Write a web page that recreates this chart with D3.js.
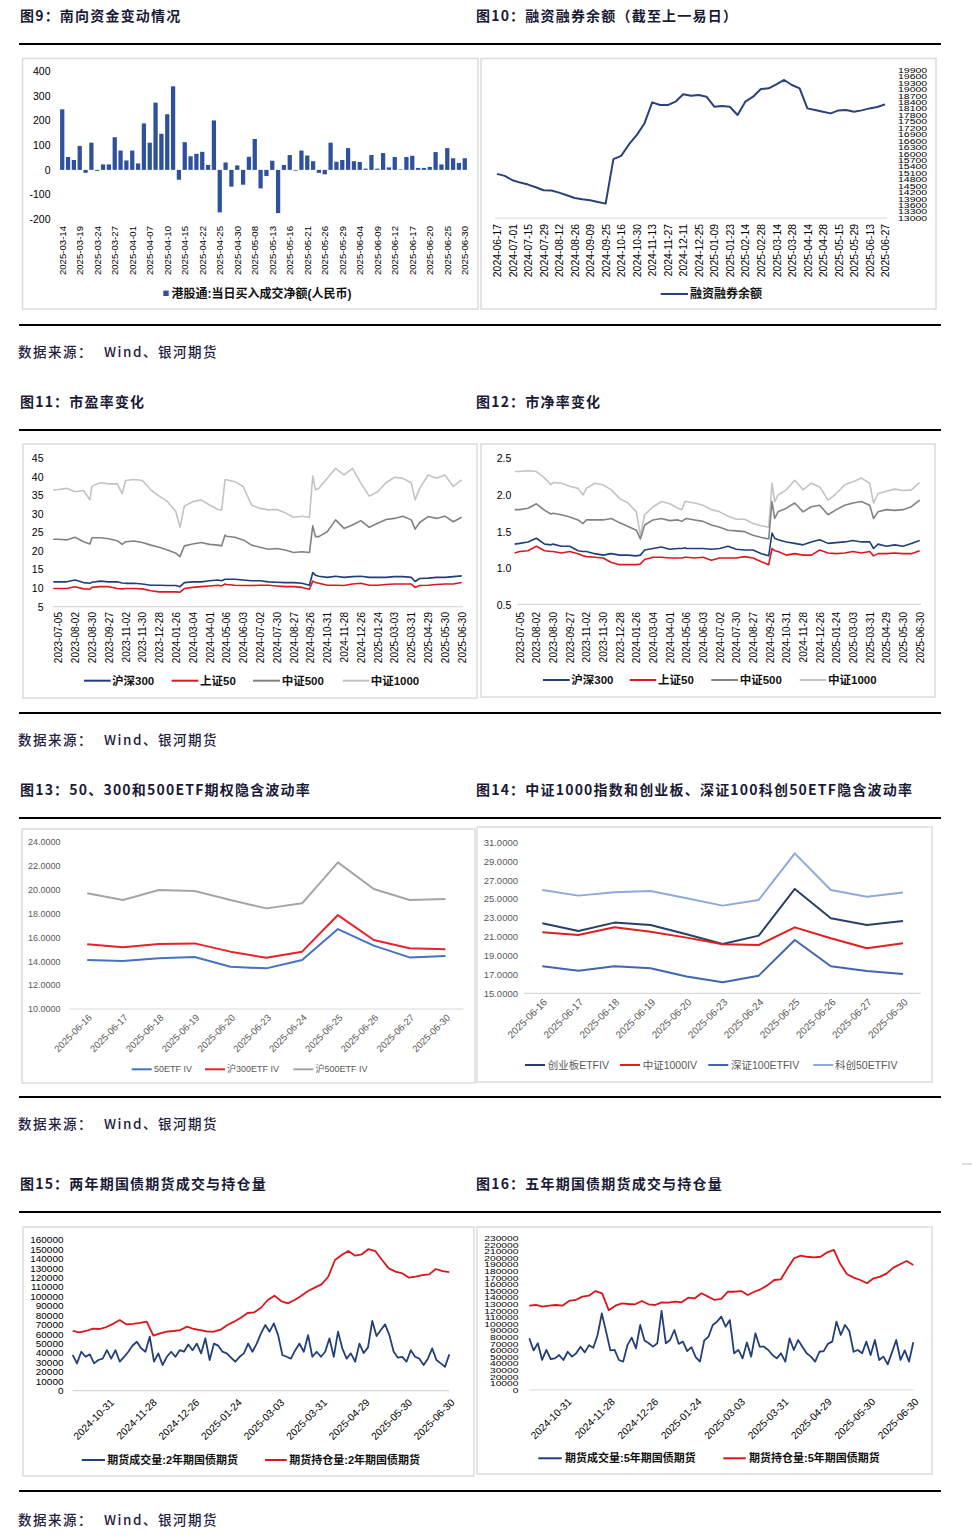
<!DOCTYPE html>
<html><head><meta charset="utf-8">
<script src="https://cdn.jsdelivr.net/npm/d3@7"></script>
<style>html,body{margin:0;padding:0;background:#fff}svg{display:block}</style>
</head><body>
<script>
// ================= DATA =================
// Fig 9 southbound net buy
const sbDates = ['2025-03-14','2025-03-17','2025-03-18','2025-03-19','2025-03-20','2025-03-21','2025-03-24','2025-03-25','2025-03-26','2025-03-27',
'2025-03-28','2025-03-31','2025-04-01','2025-04-02','2025-04-03','2025-04-07','2025-04-08','2025-04-09','2025-04-10','2025-04-11',
'2025-04-14','2025-04-15','2025-04-16','2025-04-17','2025-04-22','2025-04-23','2025-04-24','2025-04-25','2025-04-28','2025-04-29',
'2025-04-30','2025-05-06','2025-05-07','2025-05-08','2025-05-09','2025-05-12','2025-05-13','2025-05-14','2025-05-15','2025-05-16',
'2025-05-19','2025-05-20','2025-05-21','2025-05-22','2025-05-23','2025-05-26','2025-05-27','2025-05-28','2025-05-29','2025-05-30',
'2025-06-03','2025-06-04','2025-06-05','2025-06-06','2025-06-09','2025-06-10','2025-06-11','2025-06-12','2025-06-13','2025-06-16',
'2025-06-17','2025-06-18','2025-06-19','2025-06-20','2025-06-23','2025-06-24','2025-06-25','2025-06-26','2025-06-27','2025-06-30'];
const sbValues = [245,52,40,97,-12,110,-4,22,22,132, 78,38,78,26,188,110,272,146,225,338,
 -40,112,55,65,73,20,200,-172,30,-68, 18,-60,53,125,-75,-25,37,-175,20,60,
 -3,78,58,35,-12,-18,110,33,40,88, 35,32,5,60,5,68,10,52,2,52, 57,8,8,12,72,22,88,47,28,47];
const sbTicks = [-200,-100,0,100,200,300,400];

// Fig 10 margin balance (5-trading-day samples)
const marginDates = ['2024-06-17','2024-07-01','2024-07-15','2024-07-29','2024-08-12','2024-08-26','2024-09-09','2024-09-25','2024-10-16','2024-10-30','2024-11-13','2024-11-27','2024-12-11','2024-12-25','2025-01-09','2025-01-23','2025-02-14','2025-02-28','2025-03-14','2025-03-28','2025-04-14','2025-04-28','2025-05-15','2025-05-29','2025-06-13','2025-06-27'];
const marginValues = [15057,14963,14760,14651,14558,14433,14293,14278,14184,14059,
 13935,13872,13826,13748,13670,15742,15898,16428,16864,17409,
 18391,18266,18266,18422,18765,18702,18733,18655,18188,18219,
 18188,17800,18422,18655,19014,19045,19232,19435,19201,19045,
 18110,18032,17954,17877,18017,18032,17954,18017,18110,18172,18300];
const marginTicks = [13000,13300,13600,13900,14200,14500,14800,15100,15400,15700,16000,16300,16600,16900,17200,17500,17800,18100,18400,18700,19000,19300,19600,19900];

// Fig 11/12 valuation (positions in label intervals)
const valDates = ['2023-07-05','2023-08-02','2023-08-30','2023-09-27','2023-11-02','2023-11-30','2023-12-28','2024-01-26','2024-03-04','2024-04-01','2024-05-06','2024-06-03','2024-07-02','2024-07-30','2024-08-27','2024-09-26','2024-10-31','2024-11-28','2024-12-26','2025-01-24','2025-03-03','2025-03-31','2025-04-29','2025-05-30','2025-06-30'];
const valPos = [-0.3,0,0.5,1,1.5,1.88,2,2.5,3,3.5,3.8,4,4.5,5,5.5,6,6.5,7,7.24,7.5,8,8.5,9,9.5,9.72,9.92,10,10.5,11,11.5,12,12.5,13,13.5,14,14.5,14.94,15.14,15.3,15.5,16,16.5,17,17.5,18,18.5,19,19.5,20,20.5,21,21.23,21.5,22,22.5,23,23.5,24];
const pe1000 = [36.5,36.6,36.9,36.0,36.3,33.8,37.5,38.4,38.1,38.1,35.5,39.0,39.3,39.0,36.5,34.8,33.3,30.6,26.4,32.1,33.3,33.8,32.4,31.2,31.1,39.2,39.2,38.7,37.4,32.4,31.5,31.1,31.2,30.3,29.1,29.4,29.1,40.2,36.5,36.9,39.6,42.3,40.5,42.3,38.3,34.8,36.0,38.4,39.9,39.6,38.4,33.8,36.9,40.5,39.6,40.5,37.4,39.2];
const pe500 = [23.2,23.2,23.0,23.7,22.5,21.9,23.6,23.6,23.3,22.8,21.8,22.5,22.7,22.3,21.6,21.0,20.3,19.4,18.5,21.4,21.9,22.3,21.8,21.6,21.4,24.3,24.0,23.7,23.0,21.6,21.0,20.5,20.7,20.3,19.6,19.8,19.6,26.8,23.9,23.9,25.2,28.4,26.1,27.0,28.2,26.4,27.5,28.5,28.8,29.4,28.4,25.9,27.7,29.3,28.8,29.4,27.9,29.1];
const pe300 = [11.7,11.7,11.7,12.2,11.5,11.3,11.6,11.9,11.7,11.7,11.4,11.3,11.3,11.1,10.8,10.8,10.7,10.7,10.4,11.5,11.7,11.7,12.0,12.2,12.0,12.4,12.4,12.4,12.2,12.0,12.0,11.7,11.6,11.5,11.5,11.3,10.8,14.2,13.5,13.2,12.9,13.2,12.9,13.1,13.2,12.9,12.9,12.9,13.1,13.1,12.9,11.8,12.6,12.7,12.9,12.9,13.1,13.3];
const pe50 = [9.9,9.9,9.9,10.4,9.8,9.7,10.2,10.4,10.4,9.9,9.8,9.9,9.9,9.8,9.3,9.0,9.0,9.0,8.9,9.9,10.2,10.4,10.6,10.8,10.6,11.1,11.0,10.8,10.7,10.7,10.8,10.8,10.6,10.4,10.4,10.2,9.7,11.9,11.5,11.3,10.8,10.8,10.7,11.1,11.3,10.8,10.8,11.0,11.1,11.1,11.1,10.2,10.7,10.8,11.0,11.1,11.1,11.5];
const peTicks = [5,10,15,20,25,30,35,40,45];
const pb1000 = [2.32,2.32,2.33,2.32,2.23,2.14,2.17,2.16,2.12,2.09,2.00,2.09,2.16,2.14,2.07,1.95,1.89,1.77,1.45,1.73,1.84,1.91,1.88,1.82,1.80,1.91,1.91,1.89,1.86,1.80,1.77,1.71,1.67,1.67,1.61,1.58,1.56,2.16,1.91,2.00,2.07,2.20,2.07,2.16,2.11,1.93,2.02,2.14,2.18,2.23,2.16,1.89,2.02,2.05,2.08,2.06,2.07,2.17];
const pb500 = [1.80,1.80,1.82,1.88,1.79,1.74,1.75,1.73,1.70,1.66,1.61,1.66,1.66,1.66,1.68,1.62,1.57,1.52,1.40,1.59,1.66,1.68,1.65,1.66,1.64,1.67,1.68,1.66,1.64,1.59,1.56,1.52,1.51,1.50,1.45,1.42,1.40,1.91,1.68,1.77,1.82,1.89,1.77,1.84,1.86,1.73,1.80,1.86,1.89,1.91,1.86,1.68,1.77,1.80,1.79,1.80,1.84,1.93];
const pb300 = [1.33,1.34,1.36,1.41,1.33,1.32,1.33,1.30,1.30,1.24,1.23,1.23,1.20,1.18,1.20,1.18,1.18,1.17,1.18,1.25,1.27,1.29,1.26,1.27,1.27,1.28,1.27,1.27,1.27,1.26,1.27,1.30,1.26,1.25,1.25,1.20,1.17,1.48,1.41,1.39,1.36,1.34,1.32,1.36,1.39,1.34,1.35,1.36,1.38,1.36,1.36,1.27,1.33,1.30,1.32,1.30,1.34,1.38];
const pb50 = [1.21,1.23,1.24,1.30,1.24,1.23,1.23,1.21,1.23,1.20,1.17,1.16,1.15,1.14,1.08,1.05,1.05,1.05,1.06,1.12,1.15,1.15,1.14,1.14,1.14,1.15,1.15,1.14,1.15,1.11,1.14,1.14,1.14,1.16,1.14,1.09,1.05,1.27,1.24,1.23,1.18,1.20,1.18,1.18,1.25,1.21,1.20,1.21,1.23,1.21,1.23,1.17,1.20,1.20,1.21,1.20,1.20,1.24];
const pbTicks = [0.5,1.0,1.5,2.0,2.5];

// Fig 13/14 implied volatility
const ivDates = ['2025-06-16','2025-06-17','2025-06-18','2025-06-19','2025-06-20','2025-06-23','2025-06-24','2025-06-25','2025-06-26','2025-06-27','2025-06-30'];
const iv50 = [14.10,14.02,14.24,14.35,13.54,13.40,14.10,16.69,15.30,14.32,14.43];
const iv300 = [15.41,15.16,15.44,15.49,14.80,14.29,14.80,17.86,15.77,15.08,14.99];
const iv500 = [19.68,19.12,19.96,19.87,19.12,18.42,18.84,22.27,20.04,19.12,19.20];
const ivCyb = [22.42,21.60,22.49,22.24,21.25,20.23,21.11,26.06,22.95,22.24,22.66];
const ivZz1000 = [21.46,21.18,21.99,21.53,20.90,20.19,20.12,21.99,20.83,19.77,20.30];
const ivSz100 = [17.86,17.40,17.86,17.65,16.77,16.17,16.87,20.65,17.86,17.37,17.05];
const ivKc50 = [25.95,25.35,25.70,25.84,25.07,24.29,24.89,29.83,25.95,25.24,25.67];
const iv13Ticks = [10,12,14,16,18,20,22,24];
const iv14Ticks = [15,17,19,21,23,25,27,29,31];

// Fig 15/16 treasury futures (trading-day span 177)
const tfDates = ['2024-10-31','2024-11-28','2024-12-26','2025-01-24','2025-03-03','2025-03-31','2025-04-29','2025-05-30','2025-06-30'];
const tfDateDays = [17,37,57,77,97,117,137,157,177];
const tf2Vol = [37900,29000,41400,36000,38600,29000,32600,34000,43000,34000,
 43000,30800,36000,41400,48000,52000,45000,41400,57300,30800,
 39600,27300,36000,41400,36000,43000,41400,49000,43000,50000,
 39600,55600,32600,50000,47800,41400,39600,35000,30800,36000,
 39600,50000,41400,50000,60900,69700,62700,71500,59000,37900,
 36000,34000,43000,50000,41400,59000,36000,41400,36000,41400,
 55600,36000,62700,45000,34000,39600,30800,50000,40000,46000,
 74000,58000,64400,70400,59000,41400,35000,36000,30800,43000,
 36000,34000,27300,34000,45000,32600,29000,25500,38600];
const tf2Oi = [63400,62000,63400,66000,65500,67600,71000,75000,70400,71000,
 71900,73300,58400,60900,62700,63400,64400,68000,65500,64400,
 62700,62700,64800,69700,73300,77500,82500,83200,88100,96300,
 100900,95200,92700,96300,100900,105800,109400,112900,121000,138800,
 144000,148300,143400,144800,150400,148300,138800,129900,126400,124600,
 120000,121000,122800,123500,129200,127000,126000];
const tf2Ticks = [0,10000,20000,30000,40000,50000,60000,70000,80000,90000,100000,110000,120000,130000,140000,150000,160000];
const tf5Vol = [78400,60000,70800,45500,60700,47000,48000,53000,45500,58000,
 50600,55600,65700,57000,68000,64000,83400,116000,88500,60000,
 60700,45500,43000,68000,79400,63200,98600,75000,70800,65700,
 70800,119800,70800,75800,91000,70000,73300,59000,65000,50000,
 43000,75000,80900,98600,103600,111200,96000,106000,55600,60700,
 48000,72000,50600,86000,65700,65700,60700,53000,48000,55600,
 43000,78400,60700,75800,65700,55600,50600,43000,58000,59000,
 70000,73300,103600,83400,98600,89500,58000,60700,55600,73300,
 53000,75800,45500,50600,38900,57000,75800,45500,60000,43000,72300];
const tf5Oi = [127900,128900,126400,127900,128900,127900,135000,136500,141500,143000,
 150000,146600,121000,127900,131400,130400,129900,135000,129900,128900,
 132900,132400,134000,132900,140000,139000,146600,141500,136500,138000,
 149000,149000,150000,144000,149000,153000,159000,166800,167800,184500,
 199700,203700,202000,201000,202000,208800,212300,190600,175400,170300,
 166800,161800,169300,171900,176900,185500,190600,195600,189600];
const tf5Ticks = [0,10000,20000,30000,40000,50000,60000,70000,80000,90000,100000,110000,120000,130000,140000,150000,160000,170000,180000,190000,200000,210000,220000,230000];
const tfSpan = 177;

// ================= DRAW =================
const LAT = '"Liberation Sans", Arial, "Noto Sans CJK SC", sans-serif';
const CJK = '"Noto Sans CJK SC", "Noto Sans", sans-serif';
const plain = d => String(d);
const svg = d3.select('body').append('svg').attr('width',972).attr('height',1540);
svg.append('rect').attr('width',972).attr('height',1540).attr('fill','#fff');

// page furniture
const titles = [
 ['图9：南向资金变动情况',20,16],['图10：融资融券余额（截至上一易日）',476,16],
 ['图11：市盈率变化',20,402],['图12：市净率变化',476,402],
 ['图13：50、300和500ETF期权隐含波动率',20,790],['图14：中证1000指数和创业板、深证100科创50ETF隐含波动率',476,790],
 ['图15：两年期国债期货成交与持仓量',20,1184],['图16：五年期国债期货成交与持仓量',476,1184]];
titles.forEach(t=>svg.append('text').text(t[0]).attr('x',t[1]).attr('y',t[2]).attr('dy','0.36em')
  .attr('font-family',CJK).attr('font-weight',700).attr('font-size',14).attr('letter-spacing',1.2).attr('fill','#1a1a36'));
[44,325,430,713,818,1097,1212,1491].forEach(y=>svg.append('line').attr('x1',19).attr('x2',941).attr('y1',y).attr('y2',y).attr('stroke','#000').attr('stroke-width',2));
[352,740,1124,1520].forEach(y=>{
  svg.append('text').text('数据来源：').attr('x',18).attr('y',y).attr('dy','0.36em').attr('font-family',CJK).attr('font-size',13.5).attr('font-weight',500).attr('letter-spacing',1.5).attr('fill','#1f2240');
  svg.append('text').text('Wind、银河期货').attr('x',104).attr('y',y).attr('dy','0.36em').attr('font-family',CJK).attr('font-size',13.5).attr('font-weight',500).attr('letter-spacing',1.5).attr('fill','#1f2240');
});
svg.append('line').attr('x1',962).attr('x2',972).attr('y1',1164).attr('y2',1164).attr('stroke','#bbb').attr('stroke-width',1);
[[22.5,58.5,478,309],[481,58.5,936,309],[23,444,477,698],[481,444,935,697],[22,829,475,1083],[477,827,932,1082],[23,1227,474,1476],[477,1227,932,1474]]
 .forEach(b=>svg.append('rect').attr('x',b[0]).attr('y',b[1]).attr('width',b[2]-b[0]).attr('height',b[3]-b[1]).attr('fill','none').attr('stroke','#dcdcdc').attr('stroke-width',1.5));

function styleAxis(g,size,color){
  g.attr('font-family',LAT).attr('font-size',size);
  g.select('.domain').remove(); g.selectAll('.tick line').remove();
  g.selectAll('text').attr('fill',color);
}
function squeeze(g,k){ // dense tick labels: flatten glyphs vertically so they stack like the original
  g.selectAll('text').attr('dy',null).attr('dominant-baseline','central').attr('transform',`scale(1,${k})`);
}
function rotLabels(g,angle,dx,dy){
  g.selectAll('text').attr('x',0).attr('y',0).attr('dy','0.35em').attr('text-anchor','end')
   .attr('transform',`translate(${dx},${dy}) rotate(${angle})`);
}
function hline(x1,x2,y){svg.append('line').attr('x1',x1).attr('x2',x2).attr('y1',y).attr('y2',y).attr('stroke','#d9d9d9').attr('stroke-width',1.2);}
function legLine(x1,x2,y,color,w,text,tx,size,weight,fill){
  svg.append('line').attr('x1',x1).attr('x2',x2).attr('y1',y).attr('y2',y).attr('stroke',color).attr('stroke-width',w);
  svg.append('text').text(text).attr('x',tx).attr('y',y).attr('dy','0.35em').attr('font-family',LAT).attr('font-size',size).attr('font-weight',weight).attr('fill',fill);
}
function path(xf,yf,vals,color,w){
  svg.append('path').datum(vals).attr('d',d3.line().x((d,i)=>xf(i)).y(d=>yf(d)))
   .attr('fill','none').attr('stroke',color).attr('stroke-width',w).attr('stroke-linejoin','round');
}

// ---- Fig 9 ----
{
  const y = d3.scaleLinear().domain([-200,400]).range([219.3,71]);
  const x = d3.scaleBand().domain(sbDates).range([60.1,466.9]).paddingInner(0.27);
  svg.append('g').selectAll('rect').data(sbValues).join('rect')
    .attr('x',(d,i)=>x(sbDates[i])).attr('width',x.bandwidth())
    .attr('y',d=>y(Math.max(0,d))).attr('height',d=>Math.abs(y(d)-y(0))).attr('fill','#2F519D');
  const ya = svg.append('g').attr('transform','translate(50.5,0)').call(d3.axisLeft(y).tickValues(sbTicks).tickFormat(plain).tickSize(0).tickPadding(0));
  styleAxis(ya,10.5,'#000');
  const xa = svg.append('g').attr('transform','translate(0,226)').call(d3.axisBottom(x).tickValues(sbDates.filter((d,i)=>i%3===0)).tickSize(0));
  styleAxis(xa,9.6,'#000'); rotLabels(xa,-90,0,0);
  svg.append('rect').attr('x',163.3).attr('y',290.6).attr('width',5.4).attr('height',5.4).attr('fill','#2F519D');
  svg.append('text').text('港股通:当日买入成交净额(人民币)').attr('x',171.5).attr('y',293.3).attr('dy','0.35em')
    .attr('font-family',LAT).attr('font-size',12).attr('font-weight',700).attr('fill','#111');
}
// ---- Fig 10 ----
{
  const y = d3.scaleLinear().domain([13000,19900]).range([218,70]);
  const x = d3.scaleLinear().domain([0,50]).range([497,885]);
  hline(495,887,218);
  path(x,y,marginValues,'#2A4279',2);
  const ya = svg.append('g').attr('transform','translate(898,0)').call(d3.axisRight(y).tickValues(marginTicks).tickFormat(plain).tickSize(0).tickPadding(0));
  styleAxis(ya,10.5,'#000');
  ya.selectAll('.tick').each(function(){ const t=d3.select(this); const m=/translate\(([^,]+),([^)]+)\)/.exec(t.attr('transform')); t.attr('transform',`translate(${m[1]},${m[2]}) scale(1,0.62)`); });
  ya.selectAll('text').attr('dy','0.36em');
  const xa = svg.append('g').attr('transform','translate(0,224)').call(d3.axisBottom(x).tickValues(marginDates.map((d,i)=>i*2)).tickFormat(v=>marginDates[v/2]).tickSize(0));
  styleAxis(xa,10.4,'#000'); rotLabels(xa,-90,0,0);
  legLine(660.7,688,294,'#2A4279',2,'融资融券余额',690,12,700,'#111');
}
// ---- Fig 11 ----
{
  const y = d3.scaleLinear().domain([5,45]).range([606.7,458.3]);
  const x = d3.scaleLinear().domain([0,24]).range([58.3,461.7]);
  hline(53,463,y(5));
  const xf = i=>x(valPos[i]);
  path(xf,y,pe1000,'#C3C3C3',1.6); path(xf,y,pe500,'#828282',1.6);
  path(xf,y,pe300,'#203F78',1.6); path(xf,y,pe50,'#DD1720',1.6);
  const ya = svg.append('g').attr('transform','translate(43.5,0)').call(d3.axisLeft(y).tickValues(peTicks).tickFormat(plain).tickSize(0).tickPadding(0));
  styleAxis(ya,10.5,'#000');
  const xa = svg.append('g').attr('transform','translate(0,612)').call(d3.axisBottom(x).tickValues(valDates.map((d,i)=>i)).tickFormat(i=>valDates[i]).tickSize(0));
  styleAxis(xa,10,'#000'); rotLabels(xa,-90,0,0);
  legLine(84,110.7,680.7,'#203F78',2,'沪深300',112,11.5,700,'#111');
  legLine(171.7,198.3,680.7,'#DD1720',2,'上证50',200,11.5,700,'#111');
  legLine(253,280,680.7,'#828282',2,'中证500',281.7,11.5,700,'#111');
  legLine(342.7,369.3,680.7,'#C3C3C3',2,'中证1000',370.7,11.5,700,'#111');
}
// ---- Fig 12 ----
{
  const y = d3.scaleLinear().domain([0.5,2.5]).range([605,458.3]);
  const x = d3.scaleLinear().domain([0,24]).range([519.7,919.7]);
  hline(517,921,604.3);
  const xf = i=>x(valPos[i]);
  path(xf,y,pb1000,'#C3C3C3',1.6); path(xf,y,pb500,'#828282',1.6);
  path(xf,y,pb300,'#203F78',1.6); path(xf,y,pb50,'#DD1720',1.6);
  const ya = svg.append('g').attr('transform','translate(511.3,0)').call(d3.axisLeft(y).tickValues(pbTicks).tickFormat(d3.format('.1f')).tickSize(0).tickPadding(0));
  styleAxis(ya,10.5,'#000');
  const xa = svg.append('g').attr('transform','translate(0,612)').call(d3.axisBottom(x).tickValues(valDates.map((d,i)=>i)).tickFormat(i=>valDates[i]).tickSize(0));
  styleAxis(xa,10,'#000'); rotLabels(xa,-90,0,0);
  legLine(543,569.7,680,'#203F78',2,'沪深300',571.3,11.5,700,'#111');
  legLine(629.7,656.3,680,'#DD1720',2,'上证50',658,11.5,700,'#111');
  legLine(711.3,738,680,'#828282',2,'中证500',739.7,11.5,700,'#111');
  legLine(799.7,826.3,680,'#C3C3C3',2,'中证1000',828,11.5,700,'#111');
}
// ---- Fig 13 ----
{
  const y = d3.scaleLinear().domain([10,24]).range([1009,841.7]);
  const x = d3.scaleBand().domain(ivDates).range([69.3,463.3]);
  hline(69.3,463.3,y(10));
  const xf = i=>x(ivDates[i])+x.bandwidth()/2;
  path(xf,y,iv500,'#A5A5A5',2); path(xf,y,iv300,'#E5232A',2); path(xf,y,iv50,'#4472C4',2);
  const ya = svg.append('g').attr('transform','translate(60.5,0)').call(d3.axisLeft(y).tickValues(iv13Ticks).tickFormat(d3.format('.4f')).tickSize(0).tickPadding(0));
  styleAxis(ya,9,'#595959');
  const xa = svg.append('g').attr('transform','translate(0,1009)').call(d3.axisBottom(x).tickSize(0));
  styleAxis(xa,9.5,'#595959'); rotLabels(xa,-45,3,7);
  legLine(131.7,151.7,1069.3,'#4472C4',2,'50ETF IV',154,9,400,'#595959');
  legLine(205,225,1069.3,'#E5232A',2,'沪300ETF IV',227,9,400,'#595959');
  legLine(293.3,313.3,1069.3,'#A5A5A5',2,'沪500ETF IV',315.5,9,400,'#595959');
}
// ---- Fig 14 ----
{
  const y = d3.scaleLinear().domain([15,31]).range([993.3,842.3]);
  const x = d3.scaleBand().domain(ivDates).range([524.3,921]);
  hline(524.3,921,y(15));
  const xf = i=>x(ivDates[i])+x.bandwidth()/2;
  path(xf,y,ivKc50,'#8EA9DB',2); path(xf,y,ivCyb,'#2A3F68',2);
  path(xf,y,ivZz1000,'#E0201F',2); path(xf,y,ivSz100,'#4166B0',2);
  const ya = svg.append('g').attr('transform','translate(518,0)').call(d3.axisLeft(y).tickValues(iv14Ticks).tickFormat(d3.format('.4f')).tickSize(0).tickPadding(0));
  styleAxis(ya,9.5,'#595959');
  const xa = svg.append('g').attr('transform','translate(0,993.3)').call(d3.axisBottom(x).tickSize(0));
  styleAxis(xa,10,'#595959'); rotLabels(xa,-45,3,7);
  legLine(525,545,1065,'#2A3F68',2,'创业板ETFIV',547.7,10.5,400,'#595959');
  legLine(620,640,1065,'#E0201F',2,'中证1000IV',642.7,10.5,400,'#595959');
  legLine(708.3,728.3,1065,'#4166B0',2,'深证100ETFIV',731,10.5,400,'#595959');
  legLine(813.3,833.3,1065,'#8EA9DB',2,'科创50ETFIV',835,10.5,400,'#595959');
}
// ---- Fig 15 ----
{
  const y = d3.scaleLinear().domain([0,160000]).range([1390.7,1240]);
  const x = d3.scaleLinear().domain([0,tfSpan]).range([72.7,449.3]);
  hline(72.7,449.3,1390.7);
  path(i=>x(i*tfSpan/(tf2Oi.length-1)),y,tf2Oi,'#D9161C',1.8);
  path(i=>x(i*tfSpan/(tf2Vol.length-1)),y,tf2Vol,'#223F77',1.8);
  const ya = svg.append('g').attr('transform','translate(63.5,0)').call(d3.axisLeft(y).tickValues(tf2Ticks).tickFormat(plain).tickSize(0).tickPadding(0));
  styleAxis(ya,10,'#000');
  ya.selectAll('.tick').each(function(){ const t=d3.select(this); const m=/translate\(([^,]+),([^)]+)\)/.exec(t.attr('transform')); t.attr('transform',`translate(${m[1]},${m[2]}) scale(1,0.9)`); });
  const xa = svg.append('g').attr('transform','translate(0,1390.7)').call(d3.axisBottom(x).tickValues(tfDateDays).tickFormat((d,i)=>tfDates[i]).tickSize(0));
  styleAxis(xa,10.3,'#000'); rotLabels(xa,-45,3,10);
  legLine(81.7,105,1460,'#223F77',2,'期货成交量:2年期国债期货',107.3,11,700,'#111');
  legLine(265,286.7,1460,'#D9161C',2,'期货持仓量:2年期国债期货',289.3,11,700,'#111');
}
// ---- Fig 16 ----
{
  const y = d3.scaleLinear().domain([0,230000]).range([1390,1238.3]);
  const x = d3.scaleLinear().domain([0,tfSpan]).range([529.3,913.3]);
  hline(529.3,913.3,1390);
  path(i=>x(i*tfSpan/(tf5Oi.length-1)),y,tf5Oi,'#D9161C',1.8);
  path(i=>x(i*tfSpan/(tf5Vol.length-1)),y,tf5Vol,'#223F77',1.8);
  const ya = svg.append('g').attr('transform','translate(518.5,0)').call(d3.axisLeft(y).tickValues(tf5Ticks).tickFormat(plain).tickSize(0).tickPadding(0));
  styleAxis(ya,10.3,'#000');
  ya.selectAll('.tick').each(function(){ const t=d3.select(this); const m=/translate\(([^,]+),([^)]+)\)/.exec(t.attr('transform')); t.attr('transform',`translate(${m[1]},${m[2]}) scale(1,0.62)`); });
  ya.selectAll('text').attr('dy','0.36em');
  const xa = svg.append('g').attr('transform','translate(0,1390)').call(d3.axisBottom(x).tickValues(tfDateDays).tickFormat((d,i)=>tfDates[i]).tickSize(0));
  styleAxis(xa,10.3,'#000'); rotLabels(xa,-45,3,10);
  legLine(538.3,561.7,1458.3,'#223F77',2,'期货成交量:5年期国债期货',565,11,700,'#111');
  legLine(723.3,745.7,1458.3,'#D9161C',2,'期货持仓量:5年期国债期货',749,11,700,'#111');
}
</script>
</body></html>
